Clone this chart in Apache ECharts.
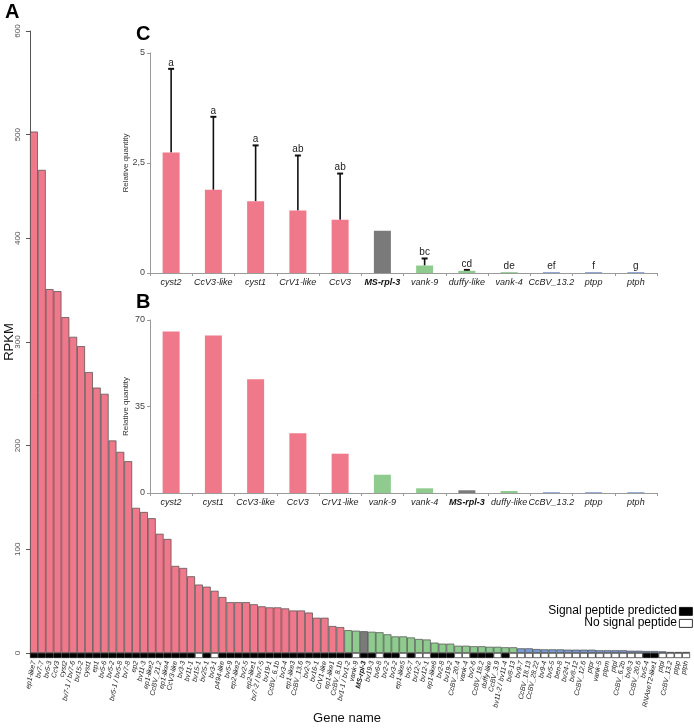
<!DOCTYPE html>
<html><head><meta charset="utf-8">
<script src="https://cdn.jsdelivr.net/npm/echarts@6/dist/echarts.min.js"></script>
<style>html,body{margin:0;padding:0;background:#fff}#c{width:694px;height:728px}</style>
</head><body><div id="c"></div>
<script>
// ---------- Panel A: RPKM per gene ----------
const genes = ['ep1-like7','bv7-7','bv5-3','CcV3','cyst2','bv7-1 / bv7-6','bv15-2','cyst1','ep1','bv5-6','bv5-2','bv5-1 / bv5-8','bv7-8','ep2','bv11-3','ep1-like2','CcBV_21.2','ep1-like4','CcV3-like','bv3-3','bv11-1','bv15-1','bv25-1','bv3-1','p494-like','bv5-9','ep2-like2','bv2-5','ep2-like1','bv7-2 / bv7-5','bv19-1','CcBV_6.1b','bv3-4','ep1-like3','CcBV_13.6','bv2-3','bv16-1','CrV1-like','ep1-like1','CcBV_8.1b','bv1-1 / bv1-2','vank-9','MS-rpl-3','bv19-3','bv6-8','bv2-2','bv3-2','ep1-like5','bv5-7','bv12-2','bv12-1','ep1-like6','bv2-8','bv19-2','CcBV_20.4','vank-4','bv2-6','CcBV_18.2','duffy-like','CcBV_3.9','bv11-2 / bv11-4','bv8-13','bv9-7','CcBV_18.13','CcBV_28.22','bv9-4','bv5-5','ben-8','bv24-1','bv8-12','CcBV_12.6','ptpr','vank-5','ptpm','ptpl','CcBV_6.2b','bv8-3','CcBV_20.6','bv5-4','RNAseT2-like1','ptpi','CcBV_13.2','ptpp','ptph'];
const rpkm = [503,466,351,349,324,305,296,271,256,250,205,194,185,140,136,130,115,110,84,82,74,66,64,60,54,49,49,49,47,45,44,44,43,41,41,39,34,34,26,25,22,21.5,21,20.5,20,18,16,16,15,13.5,13,10,9,9,7,7,6.5,6.5,6,6,5.5,5.5,4.5,4.5,3.8,3.5,3.5,3.5,3.2,3.2,3.2,3.2,2.6,2.6,2.6,2.6,2.2,2.2,1.9,1.9,1.6,1.0,1.0,1.0];
// 1 = signal peptide predicted, 0 = no signal peptide
const signalPeptide = [1,1,1,1,1,1,1,1,1,1,1,1,1,1,1,1,1,1,1,1,1,0,1,0,1,1,1,1,1,1,1,1,1,1,1,1,1,1,1,1,1,0,1,1,0,1,1,0,1,0,0,1,1,1,0,0,1,1,1,0,1,0,0,0,0,0,0,0,0,0,0,0,0,0,0,0,0,0,1,1,0,0,0,0];
const rpkmTicks = {min:0, max:600, interval:100};

// ---------- Panel C: qPCR relative quantity ----------
const qpcrGenes = ['cyst2','CcV3-like','cyst1','CrV1-like','CcV3','MS-rpl-3','vank-9','duffy-like','vank-4','CcBV_13.2','ptpp','ptph'];
const qpcrValues = [2.74,1.89,1.63,1.42,1.21,0.96,0.17,0.05,0.02,0.015,0.015,0.015];
const qpcrErrors = [1.90,1.66,1.27,1.25,1.05,0,0.16,0.02,0,0,0,0];
const qpcrLetters = ['a','a','a','ab','ab','','bc','cd','de','ef','f','g'];
const qpcrTicks = {min:0, max:5, interval:2.5};

// ---------- Panel B: RNA-seq relative quantity ----------
const rnaGenes = ['cyst2','cyst1','CcV3-like','CcV3','CrV1-like','vank-9','vank-4','MS-rpl-3','duffy-like','CcBV_13.2','ptpp','ptph'];
const rnaValues = [65.3,63.7,46,24.2,15.9,7.4,1.9,1.1,0.8,0.25,0.25,0.25];
const rnaTicks = {min:0, max:70, interval:35};

const FONT = '"Liberation Sans", Arial, sans-serif';
const PINK='#F0788B', GREEN='#8FCB8F', GRAY='#7A7A7A', BLUE='#7A9AD6', BLUE_IN='#5A7CC0';
function mainColor(i){
  if (genes[i]==='MS-rpl-3') return GRAY;
  if (i<40) return PINK;
  if (i<62) return GREEN;
  return BLUE;
}
function insetColor(g){
  const i = genes.indexOf(g);
  if (i<0) return BLUE_IN;
  const c = mainColor(i);
  return c===BLUE ? BLUE_IN : c;
}
function boldFmt(v){ return v==='MS-rpl-3' ? '{b|'+v+'}' : v; }

const chart = echarts.init(document.getElementById('c'), null, {renderer:'canvas'});
const insetX = (gi, data) => ({
  type:'category', gridIndex:gi, data:data,
  axisLine:{lineStyle:{color:'#9a9a9a', width:1}},
  axisTick:{show:true, length:3, lineStyle:{color:'#9a9a9a'}},
  axisLabel:{interval:0, fontSize:9, fontStyle:'italic', color:'#222', margin:5, fontFamily:FONT,
    formatter:boldFmt, rich:{b:{fontWeight:'bold', fontStyle:'italic', fontSize:9, color:'#111', fontFamily:FONT}}}
});
const insetY = (gi, t) => ({
  type:'value', gridIndex:gi, min:t.min, max:t.max, interval:t.interval,
  axisLine:{show:true, lineStyle:{color:'#9a9a9a'}},
  axisTick:{show:true, length:3, lineStyle:{color:'#9a9a9a'}},
  splitLine:{show:false},
  axisLabel:{fontSize:9, color:'#444', margin:5, fontFamily:FONT, formatter:v=>String(v).replace('.',',')},
  name:'Relative quantity', nameLocation:'middle', nameGap:20, nameRotate:90, nameMoveOverlap:false,
  nameTextStyle:{fontSize:8, color:'#333', fontFamily:FONT}
});
const G = (o) => Object.assign({containLabel:false, outerBoundsMode:'none'}, o);

const option = {
  animation:false,
  textStyle:{fontFamily:FONT},
  grid:[
    G({left:30, top:31, width:660, height:622}),
    G({left:30, top:653, width:660, height:5}),
    G({left:150, top:53, width:507, height:220}),
    G({left:150, top:320, width:507, height:173})
  ],
  xAxis:[
    {type:'category', gridIndex:0, data:genes, show:false},
    {type:'category', gridIndex:1, data:genes, axisLine:{show:false}, axisTick:{show:false},
      axisLabel:{interval:0, rotate:78, fontSize:7, fontStyle:'italic', color:'#222', margin:3, fontFamily:FONT,
        formatter:boldFmt, rich:{b:{fontWeight:'bold', fontStyle:'italic', fontSize:7, color:'#111', fontFamily:FONT}}}},
    insetX(2, qpcrGenes),
    insetX(3, rnaGenes)
  ],
  yAxis:[
    {type:'value', gridIndex:0, min:rpkmTicks.min, max:rpkmTicks.max, interval:rpkmTicks.interval,
      axisLine:{show:true, lineStyle:{color:'#555'}}, axisTick:{show:true, length:4, lineStyle:{color:'#555'}},
      splitLine:{show:false},
      axisLabel:{rotate:90, fontSize:8, color:'#555', margin:8, fontFamily:FONT},
      name:'RPKM', nameLocation:'middle', nameGap:14, nameRotate:90, nameMoveOverlap:false,
      nameTextStyle:{fontSize:13, color:'#111', fontFamily:FONT}},
    {type:'value', gridIndex:1, min:0, max:1, show:false},
    insetY(2, qpcrTicks),
    insetY(3, rnaTicks)
  ],
  series:[
    {type:'bar', xAxisIndex:0, yAxisIndex:0, barCategoryGap:'0%', silent:true,
      itemStyle:{borderColor:'#4a4a4a', borderWidth:0.7},
      data:rpkm.map((v,i)=>({value:v, itemStyle:{color:mainColor(i)}}))},
    {type:'bar', xAxisIndex:1, yAxisIndex:1, barCategoryGap:'0%', silent:true,
      itemStyle:{borderColor:'#000', borderWidth:0.6},
      data:signalPeptide.map(s=>({value:1, itemStyle:{color:s?'#000':'#fff'}}))},
    {type:'bar', xAxisIndex:2, yAxisIndex:2, barWidth:17, silent:true,
      data:qpcrValues.map((v,i)=>({value:v, itemStyle:{color:insetColor(qpcrGenes[i])}}))},
    {type:'custom', xAxisIndex:2, yAxisIndex:2, silent:true,
      encode:{x:0, y:1},
      data:qpcrGenes.map((g,i)=>[i, qpcrValues[i], qpcrErrors[i]]),
      renderItem:function(params, api){
        const i = api.value(0), v = api.value(1), e = api.value(2);
        const b = api.coord([i, v]);
        const ch = [];
        let topY = b[1];
        if (e > 0) {
          const t = api.coord([i, v+e]);
          ch.push({type:'line', shape:{x1:b[0], y1:b[1], x2:b[0], y2:t[1]}, style:{stroke:'#111', lineWidth:1.6}});
          ch.push({type:'line', shape:{x1:b[0]-3, y1:t[1], x2:b[0]+3, y2:t[1]}, style:{stroke:'#111', lineWidth:2}});
          topY = t[1];
        }
        const L = qpcrLetters[params.dataIndex];
        if (L) ch.push({type:'text', style:{text:L, x:b[0], y:topY-1, align:'center', verticalAlign:'bottom',
          textAlign:'center', textVerticalAlign:'bottom', font:'10px "Liberation Sans", Arial, sans-serif', fill:'#222'}});
        return {type:'group', children:ch};
      }},
    {type:'bar', xAxisIndex:3, yAxisIndex:3, barWidth:17, silent:true,
      data:rnaValues.map((v,i)=>({value:v, itemStyle:{color:insetColor(rnaGenes[i])}}))}
  ],
  graphic:[
    {type:'text', left:5, top:2, style:{text:'A', font:'bold 20px "Liberation Sans", Arial', fill:'#000'}},
    {type:'text', left:136, top:24, style:{text:'C', font:'bold 20px "Liberation Sans", Arial', fill:'#000'}},
    {type:'text', left:136, top:292, style:{text:'B', font:'bold 20px "Liberation Sans", Arial', fill:'#000'}},
    {type:'text', left:'center', top:712, style:{text:'Gene name', font:'13px "Liberation Sans", Arial', fill:'#111'}},
    {type:'text', right:17, top:605, style:{text:'Signal peptide predicted', font:'12px "Liberation Sans", Arial', fill:'#000'}},
    {type:'rect', left:679, top:607, shape:{width:13, height:8}, style:{fill:'#000', stroke:'#000', lineWidth:0.8}},
    {type:'text', right:17, top:617, style:{text:'No signal peptide', font:'12px "Liberation Sans", Arial', fill:'#000'}},
    {type:'rect', left:679, top:619, shape:{width:13, height:8}, style:{fill:'#fff', stroke:'#000', lineWidth:0.8}}
  ]
};
chart.setOption(option);
</script></body></html>
